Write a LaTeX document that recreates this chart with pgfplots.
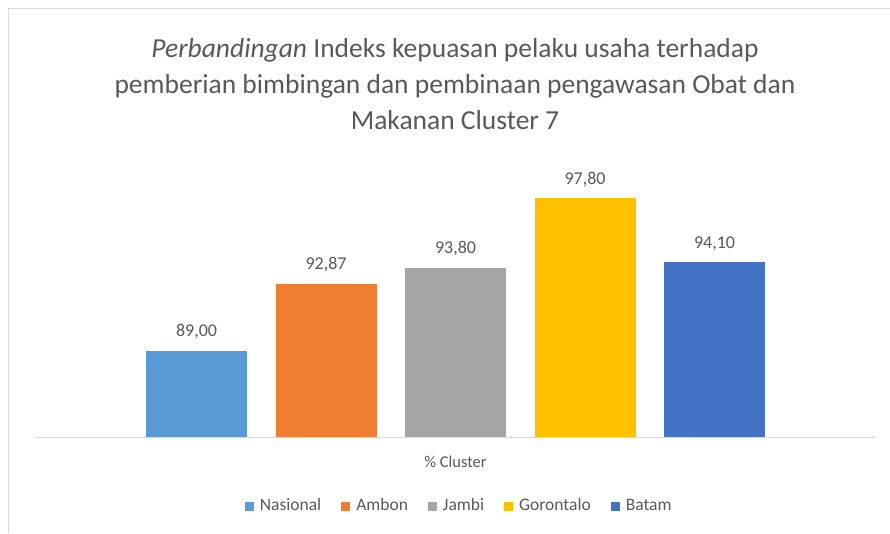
\documentclass[border=0pt]{standalone}
\usepackage{pgfplots}
\pgfplotsset{compat=1.18}
\usepackage{fontspec}
\setmainfont{Carlito}
\definecolor{cNas}{HTML}{5B9BD5}
\definecolor{cAmb}{HTML}{ED7D31}
\definecolor{cJam}{HTML}{A5A5A5}
\definecolor{cGor}{HTML}{FFC000}
\definecolor{cBat}{HTML}{4472C4}
\definecolor{txt}{HTML}{595959}
\definecolor{frame}{HTML}{D9D9D9}
\begin{document}
\begin{tikzpicture}
\path[use as bounding box, fill=white] (0,0) rectangle (890pt,533pt);
\draw[frame, line width=1.2pt] (8.5pt,0) -- (8.5pt,524.5pt) -- (890pt,524.5pt);
\node[text=txt, align=center, font=\fontsize{27.5}{36}\selectfont] at (455pt,533pt-84pt)
  {\textit{Perbandingan} Indeks kepuasan pelaku usaha terhadap\\pemberian bimbingan dan pembinaan pengawasan Obat dan\\Makanan Cluster 7};
\begin{axis}[
  at={(35pt,95.7pt)}, anchor=south west,
  scale only axis, width=840pt, height=277.1pt,
  ymin=84, ymax=100, xmin=-1.247, xmax=5.239,
  hide y axis,
  axis x line=bottom,
  x axis line style={draw=frame, line width=1pt, -},
  xtick={2}, xticklabels={\% Cluster},
  major tick length=0pt,
  xticklabel style={text=txt, font=\fontsize{16.5}{18}\selectfont, yshift=-15pt},
  bar width=0.78,
  nodes near coords,
  nodes near coords style={text=txt, font=\fontsize{18}{20}\selectfont, yshift=8pt,
    /pgf/number format/.cd, fixed, fixed zerofill, precision=2, use comma, assume math mode=true},
  legend columns=5,
  legend style={at={(0.505,-0.255)}, anchor=center, draw=none, fill=none,
    font=\fontsize{17.5}{19}\selectfont, text=txt,
    nodes={text depth=0.25em, text height=0.75em},
    /tikz/every even column/.append style={column sep=18pt}},
  legend image code/.code={\fill[#1] (0pt,-3pt) rectangle (9pt,6pt); \path (0pt,0pt) -- (13pt,0pt);},
]
\addplot[ybar, bar shift=0pt, fill=cNas, draw=none] coordinates {(0,89.00)};
\addplot[ybar, bar shift=0pt, fill=cAmb, draw=none] coordinates {(1,92.87)};
\addplot[ybar, bar shift=0pt, fill=cJam, draw=none] coordinates {(2,93.80)};
\addplot[ybar, bar shift=0pt, fill=cGor, draw=none] coordinates {(3,97.80)};
\addplot[ybar, bar shift=0pt, fill=cBat, draw=none] coordinates {(4,94.10)};
\legend{Nasional, Ambon, Jambi, Gorontalo, Batam}
\end{axis}
\end{tikzpicture}
\end{document}
